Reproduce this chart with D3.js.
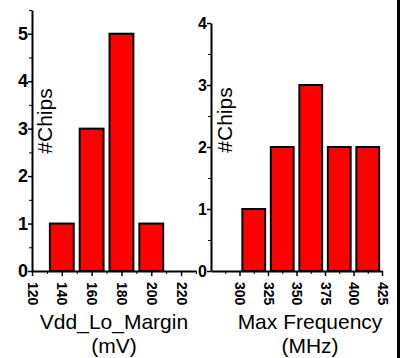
<!DOCTYPE html>
<html>
<head>
<meta charset="utf-8">
<script src="https://cdn.jsdelivr.net/npm/d3@7"></script>
<style>
  body { margin: 0; background: #fff; }
  svg { display: block; font-family: "Liberation Sans", Arial, sans-serif; }
</style>
</head>
<body>
<div id="chart"></div>
<script>
// left histogram: Vdd_Lo_Margin
const vddCenters = [140, 160, 180, 200];
const vddCounts = [1, 3, 5, 1];
const vddXTicks = [120, 140, 160, 180, 200, 220];
const vddYTicks = [0, 1, 2, 3, 4, 5];

// right histogram: Max Frequency
const freqCenters = [312.5, 337.5, 362.5, 387.5, 412.5];
const freqCounts = [1, 2, 3, 2, 2];
const freqXTicks = [300, 325, 350, 375, 400, 425];
const freqYTicks = [0, 1, 2, 3, 4];

const width = 405, height = 358;

const svg = d3.select('#chart').append('svg')
    .attr('width', width)
    .attr('height', height);

function drawPanel(cfg) {
    const x = d3.scaleLinear().domain(cfg.xDomain).range(cfg.xRange);
    const y = d3.scaleLinear().domain(cfg.yDomain).range(cfg.yRange);
    const g = svg.append('g');

    // bars
    g.selectAll('rect.bar')
        .data(cfg.centers.map((c, i) => ({c: c, v: cfg.counts[i]})))
        .enter().append('rect')
        .attr('class', 'bar')
        .attr('x', d => x(d.c - cfg.barW / 2))
        .attr('width', d => x(d.c + cfg.barW / 2) - x(d.c - cfg.barW / 2))
        .attr('y', d => y(d.v))
        .attr('height', d => y(0) - y(d.v))
        .attr('fill', '#ff0000')
        .attr('stroke', '#000')
        .attr('stroke-width', 2);

    // minor ticks
    g.append('g')
        .attr('transform', 'translate(0,' + y(0) + ')')
        .call(d3.axisBottom(x).tickValues(cfg.xMinor).tickSize(3).tickSizeOuter(0).tickFormat(''))
        .call(a => a.select('.domain').remove());
    g.append('g')
        .attr('transform', 'translate(' + x(cfg.xDomain[0]) + ',0)')
        .call(d3.axisLeft(y).tickValues(cfg.yMinor).tickSize(3).tickSizeOuter(0).tickFormat(''))
        .call(a => a.select('.domain').remove());

    // x axis
    const xa = g.append('g')
        .attr('transform', 'translate(0,' + y(0) + ')')
        .call(d3.axisBottom(x).tickValues(cfg.xTicks).tickSize(5).tickSizeOuter(0));
    xa.select('.domain').attr('stroke-width', 2);
    xa.selectAll('.tick line').attr('stroke-width', 1.5);
    xa.selectAll('.tick text')
        .attr('transform', 'rotate(90)')
        .attr('x', 11)
        .attr('y', 0)
        .attr('dy', '0.35em')
        .attr('text-anchor', 'start')
        .attr('fill', '#000')
        .style('font-size', '14px')
        .style('font-weight', 'bold');

    // y axis
    const ya = g.append('g')
        .attr('transform', 'translate(' + x(cfg.xDomain[0]) + ',0)')
        .call(d3.axisLeft(y).tickValues(cfg.yTicks).tickSize(4).tickSizeOuter(0).tickFormat(d3.format('d')));
    ya.select('.domain').attr('stroke-width', 2);
    ya.selectAll('.tick line').attr('stroke-width', 1.5);
    ya.selectAll('.tick text')
        .attr('x', -4)
        .attr('fill', '#000')
        .style('font-size', cfg.yFont)
        .style('font-weight', 'bold');

    // axis titles
    g.append('text')
        .attr('transform', 'translate(' + cfg.yTitleX + ',' + cfg.yTitleY + ') rotate(-90)')
        .attr('text-anchor', 'middle')
        .style('font-size', '21px')
        .text('#Chips');

    cfg.xTitle.forEach((t, i) => {
        g.append('text')
            .attr('x', cfg.xTitleX)
            .attr('y', 329 + i * 24)
            .attr('text-anchor', 'middle')
            .style('font-size', '21px')
            .text(t);
    });
}

drawPanel({
    centers: vddCenters, counts: vddCounts, barW: 16,
    xDomain: [120, 230], xRange: [32, 196],
    yDomain: [0, 5.5], yRange: [271, 10],
    xTicks: vddXTicks, xMinor: d3.range(130, 231, 20),
    yTicks: vddYTicks, yMinor: d3.range(0.5, 5.6, 1),
    yFont: '18px',
    yTitleX: 52, yTitleY: 121,
    xTitle: ['Vdd_Lo_Margin', '(mV)'], xTitleX: 114
});

drawPanel({
    centers: freqCenters, counts: freqCounts, barW: 20,
    xDomain: [275, 425], xRange: [211, 382],
    yDomain: [0, 4], yRange: [271, 23],
    xTicks: freqXTicks, xMinor: d3.range(287.5, 425, 25),
    yTicks: freqYTicks, yMinor: d3.range(0.5, 4, 1),
    yFont: '16px',
    yTitleX: 232, yTitleY: 120,
    xTitle: ['Max Frequency', '(MHz)'], xTitleX: 310
});

// right frame edge
svg.append('line')
    .attr('x1', 398.5).attr('x2', 398.5)
    .attr('y1', 0).attr('y2', height)
    .attr('stroke', '#000')
    .attr('stroke-width', 3);
</script>
</body>
</html>
